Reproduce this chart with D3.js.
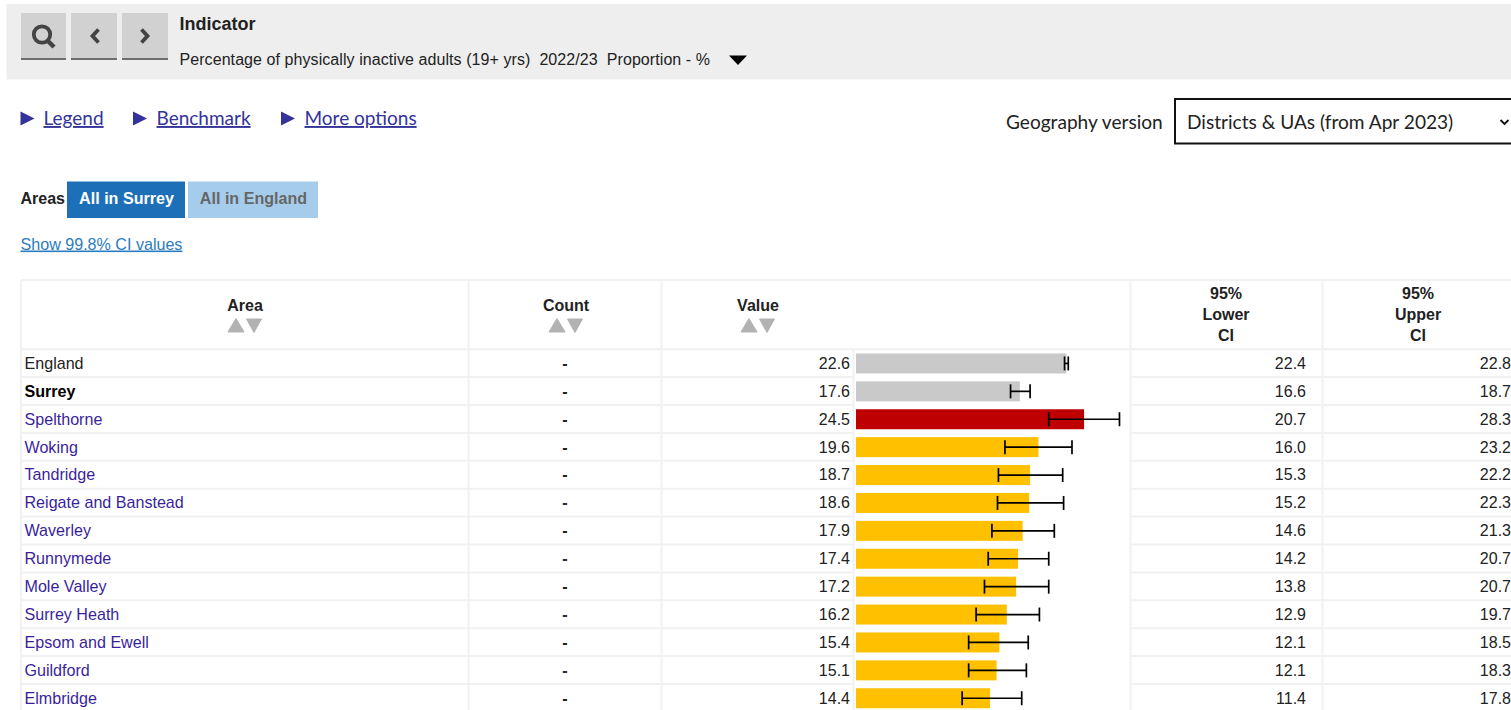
<!DOCTYPE html>
<html><head><meta charset="utf-8">
<script src="https://cdn.jsdelivr.net/npm/d3@7/dist/d3.min.js"></script>
<style>
html,body{margin:0;padding:0;background:#fff;overflow:hidden}
svg{display:block}
text{font-family:"Liberation Sans",Arial,sans-serif;fill:#222}
.gds{font-family:Lato,"Open Sans",sans-serif}
</style></head><body>
<svg id="c" width="1511" height="710"></svg>
<script>
const areas=["England","Surrey","Spelthorne","Woking","Tandridge","Reigate and Banstead","Waverley","Runnymede","Mole Valley","Surrey Heath","Epsom and Ewell","Guildford","Elmbridge"];
const values=[22.6,17.6,24.5,19.6,18.7,18.6,17.9,17.4,17.2,16.2,15.4,15.1,14.4];
const lowerCI=[22.4,16.6,20.7,16.0,15.3,15.2,14.6,14.2,13.8,12.9,12.1,12.1,11.4];
const upperCI=[22.8,18.7,28.3,23.2,22.2,22.3,21.3,20.7,20.7,19.7,18.5,18.3,17.8];
const benchmark=["ref","ref","worse","similar","similar","similar","similar","similar","similar","similar","similar","similar","similar"];
const benchColours={ref:"#c9c9c9",worse:"#bf0000",similar:"#ffc000"};
const columnHeads=[["Area"],["Count"],["Value"],["95%","Lower","CI"],["95%","Upper","CI"]];
const svg=d3.select("#c");
const x=d3.scaleLinear().domain([0,30]).range([856,856+279.3]);
const rowH=27.9,top0=349.2;
const y=d3.scaleBand().domain(areas).range([top0,top0+rowH*areas.length]);
const line="#f1f1f1";

// Top band
svg.append("rect").attr("x",6.5).attr("y",4).attr("width",1504.5).attr("height",75.5).attr("fill","#eeeeee");
[[21,45],[71,46],[122,46]].forEach(([bx,bw])=>{
  svg.append("rect").attr("x",bx).attr("y",13).attr("width",bw).attr("height",45).attr("fill","#d1d1d1");
  svg.append("rect").attr("x",bx).attr("y",58).attr("width",bw).attr("height",2).attr("fill","#6e6e6e");
});
svg.append("circle").attr("cx",42).attr("cy",34.5).attr("r",8.2).attr("fill","none").attr("stroke","#444").attr("stroke-width",3.8);
svg.append("line").attr("x1",47).attr("y1",40).attr("x2",54).attr("y2",47).attr("stroke","#444").attr("stroke-width",4.5);
svg.append("path").attr("d","M98.5,29.5L92.5,36l6,6.5").attr("fill","none").attr("stroke","#444").attr("stroke-width",3.8);
svg.append("path").attr("d","M141.5,29.5L147.5,36L141.5,42.5").attr("fill","none").attr("stroke","#444").attr("stroke-width",3.8);
svg.append("text").attr("x",179.5).attr("y",29.5).attr("font-weight",700).attr("fill","#000").text("Indicator").style("font-size","18px");
svg.append("text").attr("x",179.5).attr("y",65).attr("font-size",16).text("Percentage of physically inactive adults (19+ yrs)  2022/23  Proportion - %").style("white-space","pre").attr("textLength",530.5);
svg.append("path").attr("d","M729,55.5h18l-9,9.500z").attr("fill","#000");

// Links
[[20.5,"Legend",43.5],[133,"Benchmark",156.5],[281,"More options",304.5]].forEach(([tx,label,lx])=>{
  svg.append("path").attr("d",`M${tx},111.5v14l14,-7z`).attr("fill","#333399");
  svg.append("text").attr("class","gds").attr("x",lx).attr("y",125).attr("font-size",19).attr("text-decoration","underline").style("fill","#333399").text(label);
});
svg.append("text").attr("class","gds").attr("x",1006).attr("y",129).attr("font-size",19.1).style("fill","#222").text("Geography version");
svg.append("rect").attr("x",1175).attr("y",99).attr("width",340).attr("height",44.5).attr("fill","#fff").attr("stroke","#111").attr("stroke-width",2);
svg.append("text").attr("class","gds").attr("x",1187).attr("y",129).attr("font-size",19.1).style("fill","#222").text("Districts & UAs (from Apr 2023)");
svg.append("path").attr("d","M1500.5,120l4,4l4,-4").attr("fill","none").attr("stroke","#111").attr("stroke-width",1.8);

// Area tabs
svg.append("text").attr("x",20.5).attr("y",204).attr("font-size",16).attr("font-weight",700).attr("fill","#000").text("Areas");
svg.append("rect").attr("x",67).attr("y",181.5).attr("width",118).attr("height",36.5).attr("fill","#1d70b8");
svg.append("rect").attr("x",188).attr("y",181.5).attr("width",130).attr("height",36.5).attr("fill","#a6ccec");
svg.append("text").attr("x",126.5).attr("y",204).attr("text-anchor","middle").attr("font-size",16.1).attr("font-weight",700).style("fill","#fff").text("All in Surrey");
svg.append("text").attr("x",253.5).attr("y",204).attr("text-anchor","middle").attr("font-size",16.1).attr("font-weight",700).style("fill","#666").text("All in England");
svg.append("text").attr("x",20.5).attr("y",249.5).attr("font-size",16.1).attr("text-decoration","underline").style("fill","#2b7cc0").text("Show 99.8% CI values");

// Table grid
const gridH=[280,...d3.range(areas.length+1).map(i=>top0+i*rowH)].filter(v=>v<=710);
gridH.forEach((gy,i)=>{
  const segs=i<2?[[21,1511]]:[[21,853],[1130,1511]];
  segs.forEach(([a,b])=>svg.append("line").attr("x1",a).attr("x2",b).attr("y1",gy).attr("y2",gy).attr("stroke",line).attr("stroke-width",2));
});
[21,468.5,661.5,1130.5,1322.5].forEach(gx=>svg.append("line").attr("x1",gx).attr("x2",gx).attr("y1",280).attr("y2",710).attr("stroke",line).attr("stroke-width",2));
svg.append("line").attr("x1",853.5).attr("x2",853.5).attr("y1",349).attr("y2",710).attr("stroke",line).attr("stroke-width",2);

// Headers
const headX=[245,566,758,1226,1418];
columnHeads.forEach((h,i)=>{
  const n=h.length;
  h.forEach((t,j)=>svg.append("text").attr("x",headX[i]).attr("y",n===1?310.5:299+j*21).attr("text-anchor","middle").attr("font-size",16).attr("font-weight",700).attr("fill","#000").text(t));
  if(n===1){
    const cx=headX[i];
    svg.append("path").attr("d",`M${cx-17},332l8,-13.5l8,13.5z`).attr("fill","#b2b2b2").attr("stroke","#b2b2b2").attr("stroke-linejoin","round");
    svg.append("path").attr("d",`M${cx+1.5},319h15l-7.5,13.500z`).attr("fill","#b2b2b2").attr("stroke","#b2b2b2").attr("stroke-linejoin","round");
  }
});

// Rows
const rows=areas.map((a,i)=>({area:a,value:values[i],lo:lowerCI[i],hi:upperCI[i],b:benchmark[i],i}));
const g=svg.selectAll("g.row").data(rows).join("g").attr("class","row");
const cy=d=>y(d.area)+y.bandwidth()/2+0.3;
g.append("text").attr("x",24.5).attr("y",d=>cy(d)+5.4).attr("font-size",16.1)
  .attr("font-weight",d=>d.i===1?700:400)
  .style("fill",d=>d.i===0?"#222":d.i===1?"#000":"#3a1f9c").text(d=>d.area);
g.append("text").attr("x",565).attr("y",d=>cy(d)+5.4).attr("text-anchor","middle").attr("font-size",16).attr("font-weight",700).text("-");
g.append("text").attr("x",850).attr("y",d=>cy(d)+5.4).attr("text-anchor","end").attr("font-size",16).text(d=>d.value.toFixed(1));
g.append("text").attr("x",1306).attr("y",d=>cy(d)+5.4).attr("text-anchor","end").attr("font-size",16).text(d=>d.lo.toFixed(1));
g.append("text").attr("x",1511).attr("y",d=>cy(d)+5.4).attr("text-anchor","end").attr("font-size",16).text(d=>d.hi.toFixed(1));
g.append("rect").attr("x",x(0)).attr("y",d=>cy(d)-10).attr("height",20).attr("width",d=>x(d.value)-x(0)).attr("fill",d=>benchColours[d.b]);
const ci=g.append("g").attr("stroke","#000").attr("stroke-width",1.7);
ci.append("line").attr("x1",d=>x(d.lo)).attr("x2",d=>x(d.hi)).attr("y1",cy).attr("y2",cy);
ci.append("line").attr("x1",d=>x(d.lo)).attr("x2",d=>x(d.lo)).attr("y1",d=>cy(d)-7).attr("y2",d=>cy(d)+7);
ci.append("line").attr("x1",d=>x(d.hi)).attr("x2",d=>x(d.hi)).attr("y1",d=>cy(d)-7).attr("y2",d=>cy(d)+7);
</script></body></html>
